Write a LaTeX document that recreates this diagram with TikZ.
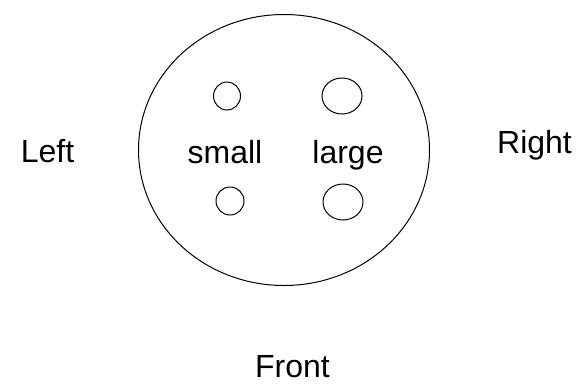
\documentclass[tikz,border=0pt]{standalone}
\usepackage{fontspec}
\setmainfont{Liberation Sans}
\usetikzlibrary{shapes.geometric}
\begin{document}
\begin{tikzpicture}[x=1pt, y=-1pt, line width=1pt,
		label/.style={anchor=base, inner sep=0pt, font=\fontsize{32}{40}\selectfont},
		hole/.style={draw, ellipse, inner sep=0pt}]
			\useasboundingbox (0,0) rectangle (580,383);
			\node (board) [draw, ellipse, minimum width=291pt, minimum height=271pt] at (284,150) {};
			\node (sTop) [hole, minimum width=27pt, minimum height=28pt] at (227,96) {};
			\node (lTop) [hole, minimum width=40pt, minimum height=36pt] at (342,96) {};
			\node (sBot) [hole, minimum width=28pt, minimum height=28pt] at (230,201) {};
			\node (lBot) [hole, minimum width=40pt, minimum height=36pt] at (343,202) {};
			
			\node (small) [label] at (225,163) {small};
			\node (large) [label] at (348,163) {large};
			\node (Left) [label] at (47.5,162) {Left};
			\node (Right) [label] at (534.5,153) {Right};
			\node (Front) [label] at (292.5,377) {Front};
		\end{tikzpicture}
\end{document}
